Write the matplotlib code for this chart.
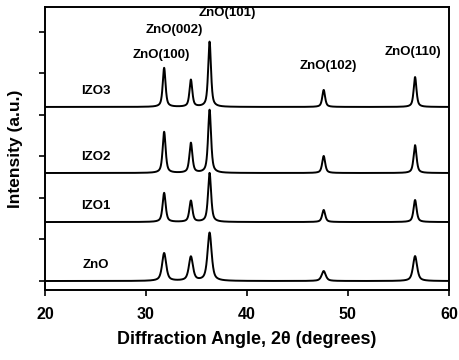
import numpy as np
import matplotlib.pyplot as plt

plt.rcParams['font.family'] = ['Liberation Sans', 'DejaVu Sans']
plt.rcParams['font.weight'] = 'bold'

# ZnO reflections (2theta, degrees)
planes = ['ZnO(100)', 'ZnO(002)', 'ZnO(101)', 'ZnO(102)', 'ZnO(110)']
peak_pos = [31.8, 34.45, 36.3, 47.6, 56.65]

samples = ['ZnO', 'IZO1', 'IZO2', 'IZO3']
offsets = [0.0, 1.42, 2.60, 4.19]
# peak heights above each baseline (a.u.)
heights = {
    'ZnO':  [0.67, 0.58, 1.16, 0.24, 0.60],
    'IZO1': [0.70, 0.51, 1.18, 0.29, 0.53],
    'IZO2': [0.99, 0.72, 1.52, 0.41, 0.67],
    'IZO3': [0.94, 0.65, 1.57, 0.41, 0.72],
}
fwhm = {'ZnO': 0.48, 'IZO1': 0.36, 'IZO2': 0.35, 'IZO3': 0.33}

# label anchors (2theta, y)
label_x = [31.5, 32.8, 38.1, 48.1, 56.4]
label_y = [5.45, 6.05, 6.45, 5.18, 5.52]

def profile(x, centres, amps, w, eta=0.65):
    y = np.zeros_like(x)
    for c, a in zip(centres, amps):
        lor = 1.0 / (1.0 + ((x - c) / (w / 2)) ** 2)
        gau = np.exp(-np.log(2) * ((x - c) / (w / 2)) ** 2)
        y += a * (eta * lor + (1 - eta) * gau)
    return y

tt = np.linspace(20, 60, 4000)

fig = plt.figure(figsize=(4.59, 3.6), dpi=100)
ax = fig.add_axes([0.098, 0.194, 0.88, 0.787])

for s, off in zip(samples, offsets):
    ax.plot(tt, off + profile(tt, peak_pos, heights[s], fwhm[s]), color='black', lw=1.4)
    ax.text(25.0, off + 0.38, s, ha='center', va='center', fontsize=9.5, fontweight='bold')

for name, lx, ly in zip(planes, label_x, label_y):
    ax.text(lx, ly, name, ha='center', va='center', fontsize=9.5, fontweight='bold')

ax.set_xlim(20, 60)
ax.set_ylim(-0.22, 6.6)
ax.set_xticks([20, 30, 40, 50, 60])
ax.set_yticks(np.arange(0, 6.5, 1.0))
ax.set_yticklabels([])
ax.tick_params(direction='out', length=4, width=1.2, labelsize=11.5, pad=8)
for sp in ax.spines.values():
    sp.set_linewidth(1.4)

ax.set_xlabel('Diffraction Angle, 2\u03b8 (degrees)', fontsize=12.9, fontweight='bold', va='center')
ax.set_ylabel('Intensity (a.u.)', fontsize=12.5, fontweight='bold', va='center')
ax.xaxis.set_label_coords(0.5, -0.173)
ax.yaxis.set_label_coords(-0.072, 0.5)

plt.savefig('out.png', dpi=100)
